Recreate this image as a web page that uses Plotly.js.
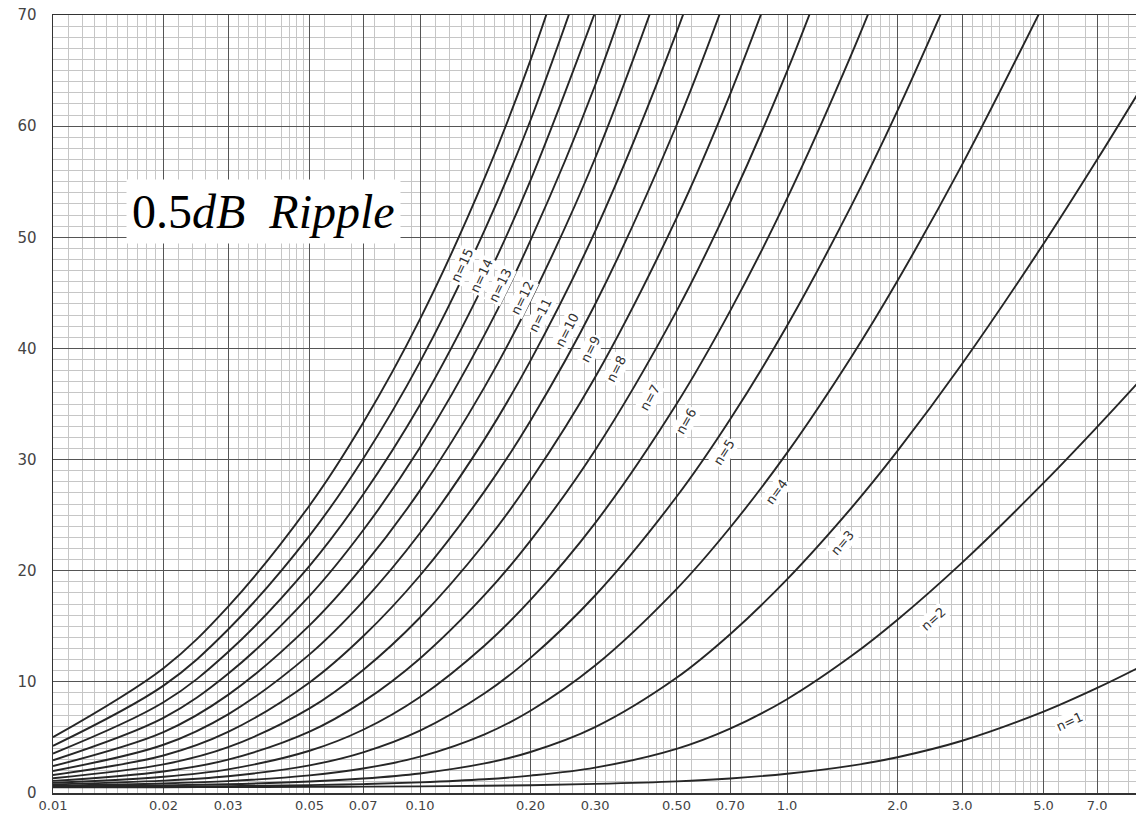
<!DOCTYPE html>
<html><head><meta charset="utf-8">
<script src="https://cdn.plot.ly/plotly-3.0.1.min.js"></script>
<style>html,body{margin:0;padding:0;background:#fff}#chart{width:1136px;height:826px}</style>
</head><body><div id="chart"></div><script>
// Frequency axis values (normalized, log scale)
const freq = [0.01,0.02,0.03,0.05,0.07,0.1,0.15,0.2,0.3,0.5,0.7,1,1.5,2,3,5,7,9];
// Attenuation (dB) for each order n
const n1  = [0.51,0.52,0.53,0.55,0.57,0.60,0.65,0.70,0.82,1.05,1.31,1.73,2.46,3.22,4.70,7.32,9.45,11.21];
const n2  = [0.54,0.58,0.62,0.71,0.80,0.96,1.24,1.56,2.28,3.97,5.79,8.44,12.34,15.59,20.73,27.90,32.94,36.84];
const n3  = [0.59,0.69,0.79,1.03,1.30,1.76,2.66,3.69,5.93,10.37,14.29,19.22,25.68,30.78,38.62,49.41,56.99,62.84];
const n4  = [0.66,0.86,1.07,1.59,2.20,3.27,5.28,7.40,11.47,18.35,23.89,30.60,39.28,46.09,56.54,70.93];
const n5  = [0.77,1.11,1.51,2.49,3.66,5.61,8.97,12.16,17.77,26.65,33.63,42.04,52.89,61.40,74.46];
const n6  = [0.91,1.46,2.13,3.80,5.69,8.64,13.27,17.37,24.28,35.00,43.38,53.48,66.50,76.71];
const n7  = [1.09,1.94,3.00,5.52,8.22,12.11,17.82,22.71,30.84,43.36,53.14,64.92,80.11];
const n8  = [1.33,2.57,4.12,7.61,11.07,15.79,22.47,28.11,37.40,51.72,62.89,76.36];
const n9  = [1.62,3.37,5.49,9.95,14.10,19.57,27.16,33.50,43.97,60.08,72.65];
const n10 = [1.98,4.34,7.08,12.47,17.24,23.39,31.84,38.90,50.54,68.44,82.40];
const n11 = [2.42,5.48,8.83,15.08,20.43,27.23,36.54,44.31,57.11,76.80];
const n12 = [2.94,6.76,10.72,17.74,23.64,31.08,41.24,49.72,63.68,85.16];
const n13 = [3.55,8.16,12.68,20.44,26.85,34.93,45.94,55.12,70.25];
const n14 = [4.24,9.66,14.71,23.16,30.08,38.79,50.64,60.53,76.82];
const n15 = [5.02,11.23,16.77,25.87,33.31,42.64,55.34,65.94,83.39];
const orders = [1,2,3,4,5,6,7,8,9,10,11,12,13,14,15];
const seriesList = [n1,n2,n3,n4,n5,n6,n7,n8,n9,n10,n11,n12,n13,n14,n15];
// Tick labels
const xTickVals = [0.01,0.02,0.03,0.05,0.07,0.1,0.2,0.3,0.5,0.7,1,2,3,5,7];
const xTickText = ['0.01','0.02','0.03','0.05','0.07','0.10','0.20','0.30','0.50','0.70','1.0','2.0','3.0','5.0','7.0'];
const yTickVals = [0,10,20,30,40,50,60,70];
const titleText = '0.5<i>dB  Ripple</i>';

// ---- label placement (data coordinates) and styling ----
const labelPlacement = [
  {n:1,  x:5.90,  y:6.4,  a:-25},
  {n:2,  x:2.50,  y:15.6, a:-42},
  {n:3,  x:1.42,  y:22.5, a:-50},
  {n:4,  x:0.939, y:27.1, a:-54},
  {n:5,  x:0.674, y:30.6, a:-57},
  {n:6,  x:0.531, y:33.4, a:-60},
  {n:7,  x:0.423, y:35.6, a:-61},
  {n:8,  x:0.342, y:38.1, a:-63},
  {n:9,  x:0.291, y:39.9, a:-63},
  {n:10, x:0.252, y:41.7, a:-63},
  {n:11, x:0.212, y:43.0, a:-64},
  {n:12, x:0.190, y:44.6, a:-64},
  {n:13, x:0.165, y:45.7, a:-64},
  {n:14, x:0.147, y:46.6, a:-65},
  {n:15, x:0.130, y:47.5, a:-65}
];

// grid helper lists
const decades = [0.01,0.1,1];
const fineX = [], midX = [];
decades.forEach(d => {
  for (let k=11;k<20;k++) fineX.push(+(k/10*d).toPrecision(6));
  for (let k=22;k<50;k+=2) if (k%10!==0) fineX.push(+(k/10*d).toPrecision(6));
  for (let k=55;k<100;k+=10) fineX.push(+(k/10*d).toPrecision(6));
  [4,6,8,9].forEach(m => midX.push(+(m*d).toPrecision(6)));
});
const midY = [5,15,25,35,45,55,65];
const xRange = [-2, Math.log10(8.93)];

const traces = seriesList.map((vals,i) => ({
  type:'scatter', mode:'lines',
  x: freq.slice(0, vals.length), y: vals,
  name: 'n=' + orders[i],
  line:{color:'#262626', width:1.9, shape:'spline', smoothing:1},
  hoverinfo:'skip'
}));

const annotations = labelPlacement.map(p => ({
  x: Math.log10(p.x), y: p.y, xref:'x', yref:'y',
  text: 'n=' + p.n, showarrow:false, textangle:p.a,
  font:{family:'DejaVu Sans', size:13, color:'#333'},
  bgcolor:'#ffffff', borderpad:1
}));
annotations.push({
  xref:'paper', yref:'paper', x:0.1944, y:0.7468, xanchor:'center', yanchor:'middle',
  text:titleText, showarrow:false,
  font:{family:'Liberation Serif', size:48, color:'#000'},
  bgcolor:'#ffffff', borderpad:5
});

const layout = {
  width:1136, height:826,
  margin:{l:53, r:0, t:15, b:33},
  paper_bgcolor:'#ffffff', plot_bgcolor:'#ffffff',
  showlegend:false,
  font:{family:'DejaVu Sans', color:'#444'},
  xaxis:{
    type:'log', range:xRange, tickmode:'array', tickvals:xTickVals, ticktext:xTickText,
    ticks:'', showgrid:true, gridcolor:'#555', gridwidth:1, zeroline:false,
    showline:true, mirror:true, linecolor:'#333', linewidth:1.5,
    tickfont:{size:13, color:'#444'},
    minor:{tickmode:'array', tickvals:fineX, showgrid:true, gridcolor:'#c6c6c6', gridwidth:1, ticks:''}
  },
  xaxis2:{
    type:'log', overlaying:'x', anchor:'y', range:xRange, tickmode:'array', tickvals:midX,
    showticklabels:false, ticks:'', showgrid:true, gridcolor:'#939393', gridwidth:1, zeroline:false, showline:false
  },
  yaxis:{
    range:[0,70], tickmode:'array', tickvals:yTickVals, ticks:'', ticklabelstandoff:12,
    showgrid:true, gridcolor:'#555', gridwidth:1, zeroline:false,
    showline:true, mirror:true, linecolor:'#333', linewidth:1.5,
    tickfont:{size:15, color:'#444'},
    minor:{dtick:1, tick0:0, showgrid:true, gridcolor:'#c6c6c6', gridwidth:1, ticks:''}
  },
  yaxis2:{
    range:[0,70], overlaying:'y', anchor:'x', tickmode:'array', tickvals:midY,
    showticklabels:false, ticks:'', showgrid:true, gridcolor:'#939393', gridwidth:1, zeroline:false, showline:false
  },
  annotations: annotations
};

Plotly.newPlot('chart', traces, layout, {staticPlot:true, displayModeBar:false});
</script></body></html>
